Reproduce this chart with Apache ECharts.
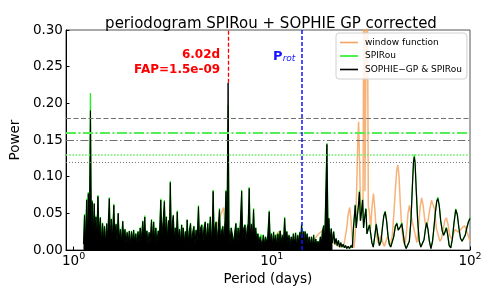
<!DOCTYPE html>
<html><head><meta charset="utf-8">
<script src="https://cdn.jsdelivr.net/npm/echarts@6/dist/echarts.min.js"></script>
<style>html,body{margin:0;padding:0;background:#fff}#c{width:498px;height:299px}</style>
</head><body><div id="c"></div>
<script>
// Period grid (days) shared by SPIRou and SOPHIE-GP & SPIRou periodograms
const periods = [
1.122,1.135,1.148,1.164,1.175,1.186,1.200,1.216,1.230,1.242,
1.256,1.271,1.282,1.297,1.309,1.327,1.343,1.365,1.380,1.400,
1.416,1.432,1.449,1.469,1.486,1.514,1.531,1.549,1.567,1.596,
1.614,1.637,1.656,1.679,1.698,1.722,1.742,1.770,1.791,1.816,
1.837,1.862,1.884,1.910,1.932,1.959,1.982,2.009,2.032,2.061,
2.084,2.113,2.138,2.168,2.193,2.234,2.259,2.286,2.312,2.344,
2.371,2.404,2.432,2.472,2.500,2.535,2.564,2.600,2.630,2.673,
2.704,2.754,2.786,2.831,2.871,2.904,2.938,2.972,3.013,3.041,
3.076,3.111,3.148,3.184,3.221,3.258,3.296,3.334,3.373,3.420,
3.459,3.508,3.548,3.573,3.614,3.664,3.707,3.741,3.785,3.837,
3.890,3.936,3.990,4.046,4.093,4.150,4.198,4.266,4.315,4.375,
4.436,4.487,4.550,4.613,4.667,4.753,4.808,4.898,4.955,5.012,
5.058,5.117,5.176,5.236,5.297,5.370,5.445,5.508,5.585,5.662,
5.728,5.808,5.875,5.943,6.020,6.081,6.152,6.237,6.353,6.427,
6.501,6.592,6.668,6.761,6.855,6.950,7.047,7.129,7.228,7.328,
7.413,7.516,7.603,7.691,7.780,7.889,7.980,8.091,8.185,8.299,
8.395,8.511,8.610,8.730,8.831,8.954,9.057,9.183,9.290,9.419,
9.550,9.705,9.817,9.954,10.07,10.21,10.33,10.47,10.59,10.74,
10.86,11.02,11.14,11.30,11.43,11.61,11.75,11.91,12.05,12.22,
12.36,12.53,12.68,12.85,13.00,13.18,13.34,13.52,13.68,13.87,
14.00,14.13,14.29,14.45,14.62,14.72,14.89,15.07,15.24,15.45,
15.63,15.85,16.03,16.26,16.44,16.67,16.87,17.10,17.30,17.58,
17.78,17.99,18.28,18.49,18.97,19.23,19.41,19.63,19.95,20.23,
20.51,20.80,21.09,21.38,21.68,21.98,22.28,22.59,22.91,23.23,
23.55,23.88,24.27,24.66,25.12,25.47,25.82,26.18,26.36,26.67,
26.98,27.35,27.67,27.99,28.31,28.71,29.04,29.44,29.85,30.20,
30.62,31.12,31.55,31.99,32.51,33.04,33.65,34.28,34.91,35.56,
36.14,36.73,37.33,37.93,38.55,39.17,39.81,40.55,41.21,41.98,
42.76,43.45,44.06,44.67,45.29,46.03,46.77,47.64,48.53,49.43,
50.35,51.17,51.88,52.36,52.84,53.58,54.45,55.46,56.49,57.54,
58.61,59.57,60.39,61.38,62.37,63.53,64.71,65.77,66.83,67.92,
68.87,69.98,71.12,72.44,73.62,74.82,76.03,77.27,78.52,79.98,
81.47,82.99,84.72,86.30,87.90,89.54,91.20,92.90,94.62,96.38,
98.17,100.0];

// SPIRou periodogram power
const spirou = [
0.008,0.049,0.012,0.070,0.016,0.079,0.021,0.214,0.018,0.068,
0.020,0.064,0.024,0.047,0.015,0.075,0.022,0.045,0.012,0.037,
0.014,0.033,0.010,0.036,0.016,0.072,0.018,0.043,0.014,0.063,
0.020,0.036,0.012,0.050,0.015,0.029,0.010,0.040,0.012,0.029,
0.008,0.025,0.010,0.026,0.008,0.026,0.012,0.028,0.010,0.023,
0.008,0.026,0.010,0.031,0.012,0.040,0.014,0.047,0.012,0.027,
0.008,0.024,0.010,0.042,0.014,0.039,0.012,0.031,0.010,0.027,
0.012,0.070,0.018,0.041,0.068,0.020,0.046,0.016,0.041,0.020,
0.094,0.020,0.037,0.048,0.014,0.031,0.012,0.054,0.016,0.029,
0.010,0.035,0.012,0.031,0.010,0.026,0.010,0.042,0.010,0.027,
0.037,0.010,0.025,0.033,0.008,0.028,0.012,0.061,0.016,0.031,
0.035,0.010,0.031,0.039,0.012,0.037,0.014,0.046,0.014,0.030,
0.082,0.020,0.033,0.039,0.012,0.031,0.057,0.016,0.027,0.033,
0.014,0.041,0.082,0.031,0.197,0.030,0.010,0.031,0.033,0.010,
0.025,0.037,0.010,0.031,0.014,0.041,0.082,0.016,0.031,0.035,
0.012,0.031,0.037,0.086,0.020,0.036,0.015,0.057,0.018,0.031,
0.012,0.023,0.008,0.018,0.021,0.006,0.021,0.008,0.018,0.010,
0.021,0.054,0.012,0.023,0.008,0.025,0.010,0.021,0.006,0.023,
0.008,0.027,0.010,0.021,0.006,0.045,0.014,0.026,0.010,0.021,
0.006,0.018,0.008,0.023,0.008,0.024,0.006,0.021,0.010,0.025,
0.012,0.036,0.012,0.026,0.008,0.026,0.010,0.023,0.008,0.018,
0.006,0.018,0.006,0.021,0.006,0.015,0.006,0.012,0.005,0.018,
0.008,0.026,0.034,0.012,0.146,0.020,0.044,0.012,0.030,0.010,
0.025,0.008,0.016,0.006,0.013,0.004,0.010,0.004,0.008,0.003,
0.006,0.002,0.005,0.002,0.006,0.003,0.030,0.051,0.062,0.030,
0.046,0.061,0.081,0.040,0.051,0.069,0.030,0.046,0.057,0.022,
0.028,0.035,0.022,0.010,0.004,0.018,0.036,0.020,0.006,0.012,
0.030,0.047,0.053,0.040,0.020,0.008,0.004,0.006,0.018,0.033,
0.037,0.027,0.025,0.033,0.037,0.022,0.008,0.002,0.003,0.012,
0.041,0.086,0.122,0.130,0.120,0.081,0.040,0.012,0.004,0.006,
0.014,0.029,0.038,0.028,0.012,0.002,0.012,0.031,0.051,0.067,
0.072,0.061,0.041,0.026,0.020,0.025,0.031,0.020,0.006,0.003,
0.015,0.037,0.056,0.049,0.030,0.016,0.012,0.013,0.021,0.031,
0.039,0.044];

// SOPHIE-GP & SPIRou periodogram power
const combined = [
0.008,0.047,0.012,0.068,0.015,0.077,0.020,0.190,0.018,0.066,
0.020,0.063,0.024,0.045,0.015,0.073,0.022,0.044,0.012,0.036,
0.014,0.032,0.010,0.036,0.016,0.070,0.018,0.042,0.014,0.061,
0.020,0.035,0.012,0.050,0.015,0.028,0.010,0.039,0.012,0.028,
0.008,0.024,0.010,0.026,0.008,0.025,0.012,0.027,0.010,0.022,
0.008,0.025,0.010,0.030,0.012,0.039,0.014,0.045,0.012,0.026,
0.008,0.024,0.010,0.041,0.014,0.038,0.012,0.030,0.010,0.026,
0.012,0.068,0.018,0.040,0.066,0.020,0.045,0.016,0.040,0.020,
0.092,0.020,0.036,0.047,0.014,0.030,0.012,0.052,0.016,0.028,
0.010,0.034,0.012,0.030,0.010,0.025,0.010,0.041,0.010,0.026,
0.036,0.010,0.024,0.032,0.008,0.027,0.012,0.059,0.016,0.030,
0.034,0.010,0.030,0.038,0.012,0.036,0.014,0.045,0.014,0.030,
0.080,0.020,0.032,0.038,0.012,0.030,0.055,0.016,0.026,0.032,
0.014,0.040,0.080,0.030,0.228,0.030,0.010,0.030,0.032,0.010,
0.024,0.036,0.010,0.030,0.014,0.040,0.080,0.016,0.030,0.034,
0.012,0.030,0.036,0.084,0.020,0.035,0.015,0.055,0.018,0.030,
0.012,0.022,0.008,0.018,0.020,0.006,0.020,0.008,0.018,0.010,
0.020,0.052,0.012,0.022,0.008,0.024,0.010,0.020,0.006,0.022,
0.008,0.026,0.010,0.020,0.006,0.043,0.014,0.025,0.010,0.020,
0.006,0.018,0.008,0.022,0.008,0.023,0.006,0.020,0.010,0.024,
0.012,0.034,0.012,0.025,0.008,0.025,0.010,0.022,0.008,0.018,
0.006,0.018,0.006,0.020,0.006,0.015,0.006,0.012,0.005,0.018,
0.008,0.025,0.033,0.012,0.144,0.020,0.043,0.012,0.029,0.010,
0.025,0.008,0.016,0.006,0.013,0.004,0.010,0.004,0.008,0.003,
0.006,0.002,0.005,0.002,0.006,0.003,0.030,0.050,0.061,0.030,
0.045,0.060,0.079,0.040,0.050,0.068,0.030,0.045,0.056,0.022,
0.028,0.034,0.022,0.010,0.004,0.018,0.035,0.020,0.006,0.012,
0.030,0.046,0.052,0.040,0.020,0.008,0.004,0.006,0.018,0.032,
0.036,0.027,0.025,0.032,0.036,0.022,0.008,0.002,0.003,0.012,
0.040,0.085,0.120,0.127,0.118,0.080,0.040,0.012,0.004,0.006,
0.014,0.028,0.037,0.028,0.012,0.002,0.012,0.030,0.050,0.066,
0.070,0.060,0.040,0.026,0.020,0.025,0.030,0.020,0.006,0.003,
0.015,0.036,0.055,0.048,0.030,0.016,0.012,0.013,0.020,0.030,
0.038,0.043];

// Window function
const windowPeriods = [
1.122,1.202,1.288,1.380,1.479,1.585,1.698,1.820,1.950,2.089,
2.239,2.399,2.570,2.754,2.951,3.162,3.388,3.508,3.715,3.981,
4.266,4.571,4.898,5.248,5.559,5.715,5.888,6.310,6.761,7.244,
7.762,8.318,8.913,9.550,10.23,10.84,11.22,12.02,12.88,13.80,
14.79,15.85,16.98,18.20,19.50,20.42,21.38,22.39,23.17,23.88,
24.32,24.72,25.12,25.53,25.94,26.36,26.79,27.16,27.42,27.73,
28.12,28.44,28.84,29.17,29.51,29.85,30.27,30.69,31.12,31.55,
32.06,32.58,33.11,33.65,34.28,34.91,35.65,36.31,36.98,37.67,
38.37,39.08,39.81,40.55,41.30,42.07,42.66,43.25,43.85,44.57,
45.29,46.13,46.99,47.86,48.64,49.43,50.23,51.05,52.00,52.97,
53.95,54.95,55.98,57.02,58.08,59.16,60.26,61.38,62.66,63.97,
65.16,66.37,67.61,69.18,70.47,71.78,73.28,74.64,76.03,77.45,
79.07,80.72,82.41,84.14,85.90,87.70,89.54,91.62,93.97,96.61,
100.0];
const windowPower = [
0.002,0.012,0.004,0.015,0.005,0.012,0.004,0.014,0.006,0.016,
0.005,0.018,0.007,0.020,0.008,0.018,0.006,0.020,0.008,0.018,
0.006,0.022,0.008,0.030,0.050,0.058,0.015,0.005,0.018,0.006,
0.016,0.005,0.014,0.006,0.016,0.025,0.020,0.008,0.018,0.006,
0.014,0.008,0.020,0.028,0.020,0.010,0.006,0.004,0.008,0.030,
0.050,0.058,0.040,0.012,0.003,0.020,0.080,0.150,0.175,0.120,
0.040,0.060,0.050,0.450,0.080,0.080,0.450,0.060,0.050,0.030,
0.060,0.077,0.055,0.025,0.010,0.015,0.020,0.010,0.005,0.012,
0.018,0.010,0.006,0.020,0.050,0.085,0.108,0.116,0.100,0.060,
0.030,0.012,0.008,0.025,0.050,0.061,0.050,0.040,0.030,0.020,
0.010,0.030,0.058,0.071,0.060,0.040,0.030,0.040,0.055,0.068,
0.070,0.055,0.030,0.020,0.012,0.015,0.028,0.040,0.044,0.035,
0.020,0.015,0.022,0.028,0.029,0.024,0.025,0.031,0.033,0.025,
0.012];

// Reference levels and annotations
const fapLevels = [0.18, 0.16, 0.15, 0.13, 0.12];
const xTickValues = [1, 10, 100];
const yMin = 0, yMax = 0.30, yStep = 0.05;
const xMin = 0.915, xMax = 100;
const peakPeriod = 6.02, peakPower = 0.228;
const protPeriod = 14.1;
const peakLabel = ['6.02d', 'FAP=1.5e-09'];

const FONT = 'DejaVu Sans';
const pairs = (xs, ys) => xs.map((x, i) => [x, ys[i]]);
const combinedData = pairs(periods, combined);
const splitIdx = periods.findIndex(p => p > 20);
const denseData = combinedData.slice(0, splitIdx + 1);
const smoothData = combinedData.slice(splitIdx);

const fapStyles = [
  {color: '#707070', width: 1.1, type: [5, 2.5]},
  {color: '#55ee55', width: 2, type: [10, 2.5, 2, 2.5]},
  {color: '#707070', width: 1.2, type: [8, 2.5, 1.5, 2.5]},
  {color: '#66ee66', width: 1.6, type: [1.6, 1.6]},
  {color: '#707070', width: 1, type: [1, 2]}
];

const chart = echarts.init(document.getElementById('c'), null, {renderer: 'canvas'});
const supers = {1: '0', 10: '1', 100: '2'};
chart.setOption({
  animation: false,
  backgroundColor: '#fff',
  title: {
    text: 'periodogram SPIRou + SOPHIE GP corrected',
    left: 266, top: 12, textAlign: 'center',
    textStyle: {fontFamily: FONT, fontSize: 15, fontWeight: 'normal', color: '#000'}
  },
  legend: {
    data: ['window function', 'SPIRou', 'SOPHIE−GP & SPIRou'],
    orient: 'vertical', left: 336, top: 33,
    icon: 'rect', itemWidth: 18, itemHeight: 1.6, itemGap: 2.5,
    padding: [4, 5, 4, 4],
    backgroundColor: 'rgba(255,255,255,0.85)',
    borderColor: '#d0d0d0', borderWidth: 1, borderRadius: 3,
    selectedMode: false,
    textStyle: {fontFamily: FONT, fontSize: 9, color: '#000', lineHeight: 11, padding: [0, 0, 0, 2]}
  },
  grid: {left: 64, right: 28, top: 30, bottom: 49, show: true, borderColor: '#555', borderWidth: 1, backgroundColor: 'transparent'},
  xAxis: {
    type: 'log', logBase: 10, min: xMin, max: xMax,
    name: 'Period (days)', nameLocation: 'middle', nameGap: 14,
    nameTextStyle: {fontFamily: FONT, fontSize: 13.5, color: '#000'},
    axisLine: {show: true, onZero: false, lineStyle: {color: '#000', width: 1}},
    axisTick: {show: true, inside: true, length: 3.5, customValues: xTickValues, lineStyle: {color: '#000'}},
    minorTick: {show: false},
    splitLine: {show: false},
    axisLabel: {
      customValues: xTickValues, margin: 2,
      formatter: v => '{a|10}{b|' + supers[Math.round(v)] + '}',
      rich: {
        a: {fontFamily: FONT, fontSize: 13.5, color: '#000', lineHeight: 16, verticalAlign: 'bottom', padding: [3, 0, 0, 0]},
        b: {fontFamily: FONT, fontSize: 9.5, color: '#000', lineHeight: 11, verticalAlign: 'top'}
      }
    }
  },
  yAxis: {
    type: 'value', min: yMin, max: yMax, interval: yStep,
    name: 'Power', nameLocation: 'middle', nameGap: 32,
    nameTextStyle: {fontFamily: FONT, fontSize: 13.5, color: '#000'},
    axisLine: {show: true, lineStyle: {color: '#000', width: 1}},
    axisTick: {show: true, inside: true, length: 3.5, lineStyle: {color: '#000'}},
    splitLine: {show: false},
    axisLabel: {fontFamily: FONT, fontSize: 13.5, color: '#000', margin: 3, formatter: v => v.toFixed(2)}
  },
  series: [
    {
      name: 'window function', type: 'line', data: pairs(windowPeriods, windowPower),
      symbol: 'none', clip: true, z: 1,
      lineStyle: {color: '#f4a460', width: 1.5, opacity: 0.85},
      itemStyle: {color: '#f4a460'}
    },
    {
      name: 'SPIRou', type: 'line', data: pairs(periods, spirou),
      symbol: 'none', clip: true, z: 2,
      lineStyle: {color: '#22ee22', width: 1.3},
      itemStyle: {color: '#22ee22'}
    },
    {
      name: 'SOPHIE−GP & SPIRou', type: 'line', data: denseData,
      symbol: 'none', clip: true, z: 3,
      lineStyle: {color: '#000', width: 1},
      areaStyle: {color: '#000', opacity: 1, origin: 'start'},
      itemStyle: {color: '#000'}
    },
    {
      name: 'SOPHIE−GP & SPIRou', type: 'line', data: smoothData,
      symbol: 'none', clip: true, z: 3,
      lineStyle: {color: '#000', width: 1.2},
      itemStyle: {color: '#000'},
      markLine: {
        silent: true, symbol: ['none', 'none'], animation: false,
        label: {show: false},
        data: fapLevels.map((v, i) => ({yAxis: v, lineStyle: fapStyles[i]})).concat([
          {xAxis: protPeriod, lineStyle: {color: '#1515ff', width: 1.5, type: [4, 2]}},
          [{coord: [peakPeriod, peakPower], lineStyle: {color: '#ff0000', width: 1.3, type: [4, 2]}},
           {coord: [peakPeriod, yMax]}]
        ])
      },
      markPoint: {
        silent: true, symbol: 'circle', symbolSize: 0, animation: false,
        data: [
          {coord: [peakPeriod, 0.2557], label: {
            show: true, position: 'left', distance: 8,
            formatter: peakLabel.join('\n'),
            fontFamily: FONT, fontSize: 12, fontWeight: 'bold', color: '#ff0000', lineHeight: 15, align: 'right'
          }},
          {coord: [protPeriod, 0.2645], label: {
            show: true, position: 'left', distance: 6,
            formatter: '{p|P}{s|rot}',
            rich: {
              p: {fontFamily: FONT, fontSize: 13, fontWeight: 'bold', color: '#1515ff', lineHeight: 15, verticalAlign: 'bottom'},
              s: {fontFamily: FONT, fontSize: 9, fontStyle: 'italic', color: '#1515ff', lineHeight: 15, verticalAlign: 'bottom'}
            }
          }}
        ]
      }
    }
  ]
});
</script>
</body></html>
